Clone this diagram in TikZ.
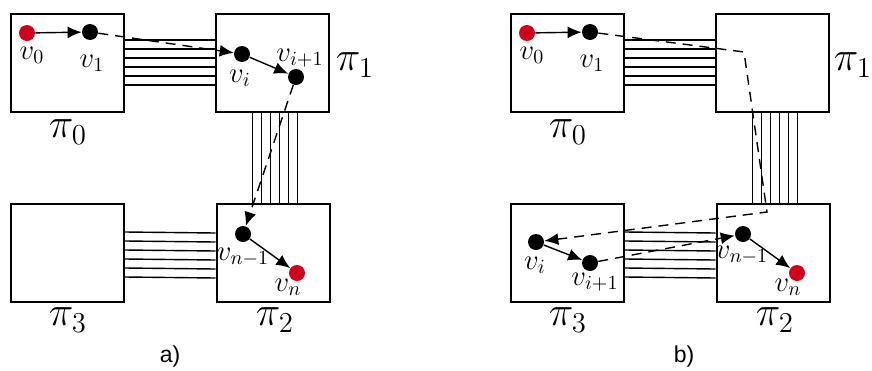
\documentclass[tikz,border=0pt]{standalone}
\usepackage{fontspec}
\newfontfamily\capfont{Liberation Sans}
\usepackage{xcolor}
\usetikzlibrary{positioning,arrows.meta,calc}
\definecolor{endred}{HTML}{D0021B}
\tikzset{
  part/.style={draw,line width=1pt,minimum width=56.5pt,minimum height=49pt,inner sep=0pt},
  dot/.style={circle,fill=black,inner sep=0pt,minimum size=8pt},
  enddot/.style={dot,fill=endred},
  lab/.style={inner sep=0pt,font=\fontsize{14}{16}\selectfont},
  plab/.style={inner sep=0pt,font=\fontsize{21}{24}\selectfont},
  captext/.style={inner sep=0pt,font=\capfont\fontsize{11.5}{13}\selectfont},
  link/.style={line width=0.7pt},
  arr/.style={-{Latex[length=7pt,width=6pt]},line width=0.7pt},
  darr/.style={arr,dash pattern=on 5pt off 3.5pt},
}
\begin{document}
\begin{tikzpicture}[x=0.5pt,y=-0.5pt]
\useasboundingbox (0,0) rectangle (872,370);

% a) path stays on the shortest route
\begin{scope}
\node[part] (p0a) at (67.5,63) {};
\node[part] (p1a) at (272.5,63) {};
\node[part] (p2a) at (273,253) {};
\node[part] (p3a) at (67.5,252.5) {};
\foreach \k in {0,...,5} {
  \draw[link] ([yshift=11.5pt-4.5pt*\k]p0a.east) -- ([yshift=11.5pt-4.5pt*\k]p1a.west);
  \draw[link] ([xshift=-10pt+4.5pt*\k]p1a.south) -- ([xshift=-10.25pt+4.5pt*\k]p2a.north);
  \draw[link] ([yshift=10.25pt-4.5pt*\k]p3a.east) -- ([yshift=10pt-4.5pt*\k]p2a.west);
}
\node[enddot] (v0a) at (27,33) {};
\node[dot] (v1a) at (90,32) {};
\node[dot] (via) at (242,54) {};
\node[dot] (vi1a) at (296,77) {};
\node[dot] (vn1a) at (243,234) {};
\node[enddot] (vna) at (297,273) {};
\draw[arr] (v0a) -- (v1a);
\draw[darr] (v1a) -- (via);
\draw[arr] (via) -- (vi1a);
\draw[darr] (vi1a) -- (vn1a);
\draw[arr] (vn1a) -- (vna);
\node[lab] (l0a) at (32,55) {$v_0$};
\node[lab] (l1a) at (92,63) {$v_1$};
\node[lab] (lia) at (240,78) {$v_i$};
\node[lab] (li1a) at (300,58) {$v_{i+1}$};
\node[lab] (ln1a) at (243,257) {$v_{n-1}$};
\node[lab] (lna) at (288,287) {$v_n$};
\node[plab] (q0a) at (68,132) {$\pi_0$};
\node[plab] (q1a) at (355,65) {$\pi_1$};
\node[plab] (q2a) at (275,320) {$\pi_2$};
\node[plab] (q3a) at (68,320) {$\pi_3$};
\node[captext] (capa) at (170,357) {a)};
\end{scope}

% b) path detours through pi_3
\begin{scope}[xshift=250pt]
\node[part] (p0b) at (67.5,63) {};
\node[part] (p1b) at (272.5,63) {};
\node[part] (p2b) at (273,253) {};
\node[part] (p3b) at (67.5,252.5) {};
\foreach \k in {0,...,5} {
  \draw[link] ([yshift=11.5pt-4.5pt*\k]p0b.east) -- ([yshift=11.5pt-4.5pt*\k]p1b.west);
  \draw[link] ([xshift=-10pt+4.5pt*\k]p1b.south) -- ([xshift=-10.25pt+4.5pt*\k]p2b.north);
  \draw[link] ([yshift=10.25pt-4.5pt*\k]p3b.east) -- ([yshift=10pt-4.5pt*\k]p2b.west);
}
\node[enddot] (v0b) at (27,33) {};
\node[dot] (v1b) at (90,32) {};
\node[dot] (vib) at (36,242) {};
\node[dot] (vi1b) at (90,263) {};
\node[dot] (vn1b) at (243,234) {};
\node[enddot] (vnb) at (297,273) {};
\coordinate (c1b) at (244,52);
\coordinate (c2b) at (267,212);
\draw[arr] (v0b) -- (v1b);
\draw[darr] (v1b) -- (c1b) -- (c2b) -- (vib);
\draw[arr] (vib) -- (vi1b);
\draw[darr] (vi1b) -- (vn1b);
\draw[arr] (vn1b) -- (vnb);
\node[lab] (l0b) at (32,55) {$v_0$};
\node[lab] (l1b) at (92,63) {$v_1$};
\node[lab] (lib) at (35,265) {$v_i$};
\node[lab] (li1b) at (95,282) {$v_{i+1}$};
\node[lab] (ln1b) at (242,255) {$v_{n-1}$};
\node[lab] (lnb) at (288,287) {$v_n$};
\node[plab] (q0b) at (68,132) {$\pi_0$};
\node[plab] (q1b) at (353,65) {$\pi_1$};
\node[plab] (q2b) at (275,320) {$\pi_2$};
\node[plab] (q3b) at (68,320) {$\pi_3$};
\node[captext] (capb) at (184,357) {b)};
\end{scope}
\end{tikzpicture}
\end{document}
